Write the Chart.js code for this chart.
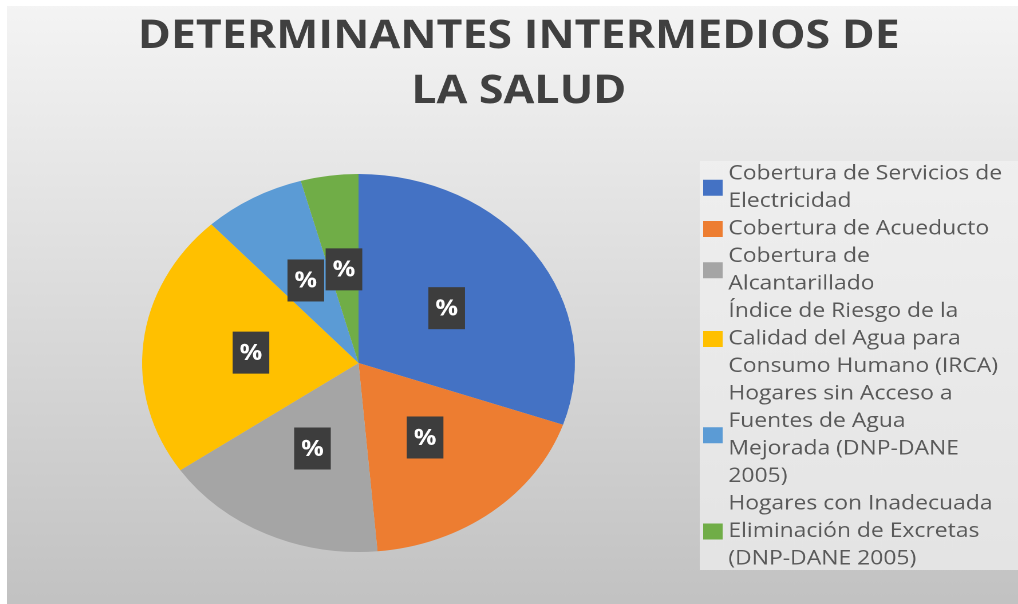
<!DOCTYPE html>
<html>
<head>
<meta charset="utf-8">
<title>Determinantes intermedios de la salud</title>
<script src="https://cdn.jsdelivr.net/npm/chart.js@4.4.1/dist/chart.umd.min.js"></script>
<style>
html, body { margin:0; padding:0; background:#fff; overflow:hidden; }
/* the original picture is stretched sideways, so the whole chart is too */
#wrap { position:absolute; left:7px; top:6px; width:883px; height:598px; transform:scaleX(1.145); transform-origin:0 0; }
#salud_chart { display:block; }
</style>
</head>
<body>
<div id="wrap"><canvas id="salud_chart" width="883" height="598"></canvas></div>
<script>
// data (the slices only show "%", so sizes are estimated from the angles)
let titleLines = ["DETERMINANTES INTERMEDIOS DE", "LA SALUD"];
let labelLines = [
    ["Cobertura de Servicios de", "Electricidad"],
    ["Cobertura de Acueducto"],
    ["Cobertura de", "Alcantarillado"],
    ["Índice de Riesgo de la", "Calidad del Agua para", "Consumo Humano (IRCA)"],
    ["Hogares sin Acceso a", "Fuentes de Agua", "Mejorada (DNP-DANE", "2005)"],
    ["Hogares con Inadecuada", "Eliminación de Excretas", "(DNP-DANE 2005)"]
];
let categories = labelLines.map(function(l){ return l.join(" "); });
let values = [30.3, 18.3, 16.8, 22.7, 7.6, 4.3];
let sliceColors = ["#4472C4", "#ED7D31", "#A5A5A5", "#FFC000", "#5B9BD5", "#70AD47"];
let sliceLabel = "%";

const textGray = "#595959";

const backgroundPlugin = {
    id: "background",
    beforeDraw: function(chart){
        let ctx = chart.ctx;
        let w = chart.width, h = chart.height;
        ctx.save();
        let g = ctx.createLinearGradient(0, 0, 0, h);
        g.addColorStop(0, "#f4f4f4");
        g.addColorStop(1, "#c2c2c2");
        ctx.fillStyle = g;
        ctx.fillRect(0, 0, w, h);
        // lighter panel behind the legend
        let pg = ctx.createLinearGradient(0, 155, 0, 564);
        pg.addColorStop(0, "#efefef");
        pg.addColorStop(1, "#e4e4e4");
        ctx.fillStyle = pg;
        ctx.fillRect(605, 155, w - 605, 409);
        ctx.restore();
    }
};

const textPlugin = {
    id: "textBits",
    afterDraw: function(chart){
        let ctx = chart.ctx;
        ctx.save();
        // title
        ctx.fillStyle = "#404040";
        ctx.font = "bold 39px 'Open Sans'";
        ctx.textAlign = "center";
        ctx.textBaseline = "middle";
        for(let i = 0; i < titleLines.length; i++){
            ctx.fillText(titleLines[i], 447, 31 + i * 55);
        }
        // legend, one box per item, lines wrapped like the original
        ctx.font = "20px 'Open Sans'";
        ctx.textAlign = "left";
        let y = 168, step = 27.5;
        for(let i = 0; i < labelLines.length; i++){
            let n = labelLines[i].length;
            let mid = y + (n - 1) * step / 2;
            ctx.fillStyle = sliceColors[i];
            ctx.fillRect(608, mid - 8, 17, 16);
            ctx.fillStyle = textGray;
            for(let j = 0; j < n; j++){
                ctx.fillText(labelLines[i][j], 630, y + j * step);
            }
            y += n * step;
        }
        ctx.restore();
    }
};

const sliceLabelPlugin = {
    id: "sliceLabels",
    afterDatasetsDraw: function(chart){
        let ctx = chart.ctx;
        let arcs = chart.getDatasetMeta(0).data;
        ctx.save();
        ctx.font = "bold 22px 'Open Sans'";
        ctx.textAlign = "center";
        ctx.textBaseline = "middle";
        for(let i = 0; i < arcs.length; i++){
            let p = arcs[i].tooltipPosition();
            ctx.fillStyle = "#3d3d3d";
            ctx.fillRect(p.x - 16, p.y - 21, 32, 42);
            ctx.fillStyle = "#ffffff";
            ctx.fillText(sliceLabel, p.x, p.y + 1);
        }
        ctx.restore();
    }
};

let saludChart = new Chart(document.getElementById("salud_chart"), {
    type: "pie",
    data: {
        labels: categories,
        datasets: [{
            data: values,
            backgroundColor: sliceColors,
            borderWidth: 0
        }]
    },
    options: {
        responsive: false,
        animation: false,
        devicePixelRatio: 2,
        layout: { padding: { left: 118, right: 387, top: 168, bottom: 52 } },
        plugins: {
            legend: { display: false },
            title: { display: false },
            tooltip: { enabled: false }
        }
    },
    plugins: [backgroundPlugin, textPlugin, sliceLabelPlugin]
});
</script>
</body>
</html>
